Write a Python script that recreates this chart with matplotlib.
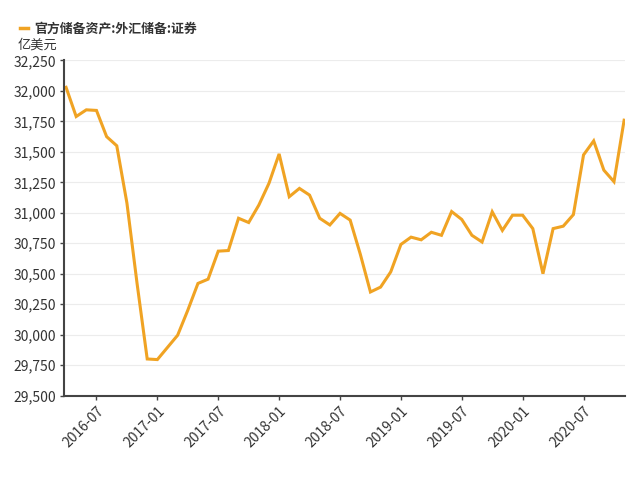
import matplotlib
matplotlib.use('Agg')
import matplotlib.pyplot as plt
from matplotlib.lines import Line2D
import pandas as pd

plt.rcParams['font.family'] = ['Noto Sans CJK SC', 'DejaVu Sans']

# monthly data, 2016-04 .. 2020-11
months = pd.date_range('2016-04-01', periods=56, freq='MS')
values = [32030, 31790, 31845, 31840, 31625, 31550, 31080, 30420, 29800, 29795,
          29895, 29995, 30200, 30420, 30455, 30685, 30690, 30955, 30920, 31063,
          31242, 31483, 31132, 31200, 31145, 30955, 30900, 30995, 30940, 30660,
          30350, 30390, 30515, 30740, 30800, 30778, 30840, 30815, 31010, 30945,
          30815, 30760, 31008, 30855, 30980, 30980, 30870, 30500, 30870, 30890,
          30985, 31475, 31590, 31350, 31255, 31760]
yticks = [29500, 29750, 30000, 30250, 30500, 30750, 31000, 31250, 31500, 31750, 32000, 32250]
series_name = '官方储备资产:外汇储备:证券'
unit = '亿美元'
color = '#F0A323'

fig = plt.figure(figsize=(6.4, 4.8), dpi=100)
ax = fig.add_axes([0.1, 0.176, 0.876, 0.698])

x = list(range(len(values)))
ax.plot(x, values, color=color, lw=2.2, solid_joinstyle='miter')

ax.set_xlim(-0.2, len(values) - 0.95)
ax.set_ylim(29500, 32250)
ax.set_yticks(yticks)
ax.set_yticklabels([f'{v:,}' for v in yticks], fontsize=10, color='#333333')

tick_idx = [i for i, m in enumerate(months) if m.month in (1, 7)]
ax.set_xticks(tick_idx)
ax.set_xticklabels([months[i].strftime('%Y-%m') for i in tick_idx],
                   rotation=45, ha='right', rotation_mode='anchor', fontsize=10, color='#333333')

ax.grid(axis='y', color='#ececec', lw=0.8)
ax.set_axisbelow(True)
for s in ['top', 'right']:
    ax.spines[s].set_visible(False)
for s in ['left', 'bottom']:
    ax.spines[s].set_color('#444444')
    ax.spines[s].set_linewidth(1.5)
ax.tick_params(axis='both', length=3, width=1, color='#444444', pad=3)

# legend and unit
fig.add_artist(Line2D([0.032, 0.043], [0.941, 0.941], color=color, lw=2.5, transform=fig.transFigure))
fig.text(0.054, 0.941, series_name, fontsize=9.3, fontweight='bold', color='#333333', va='center')
fig.text(0.028, 0.906, unit, fontsize=9.5, color='#333333', va='center')

fig.savefig('out.png', dpi=100)
